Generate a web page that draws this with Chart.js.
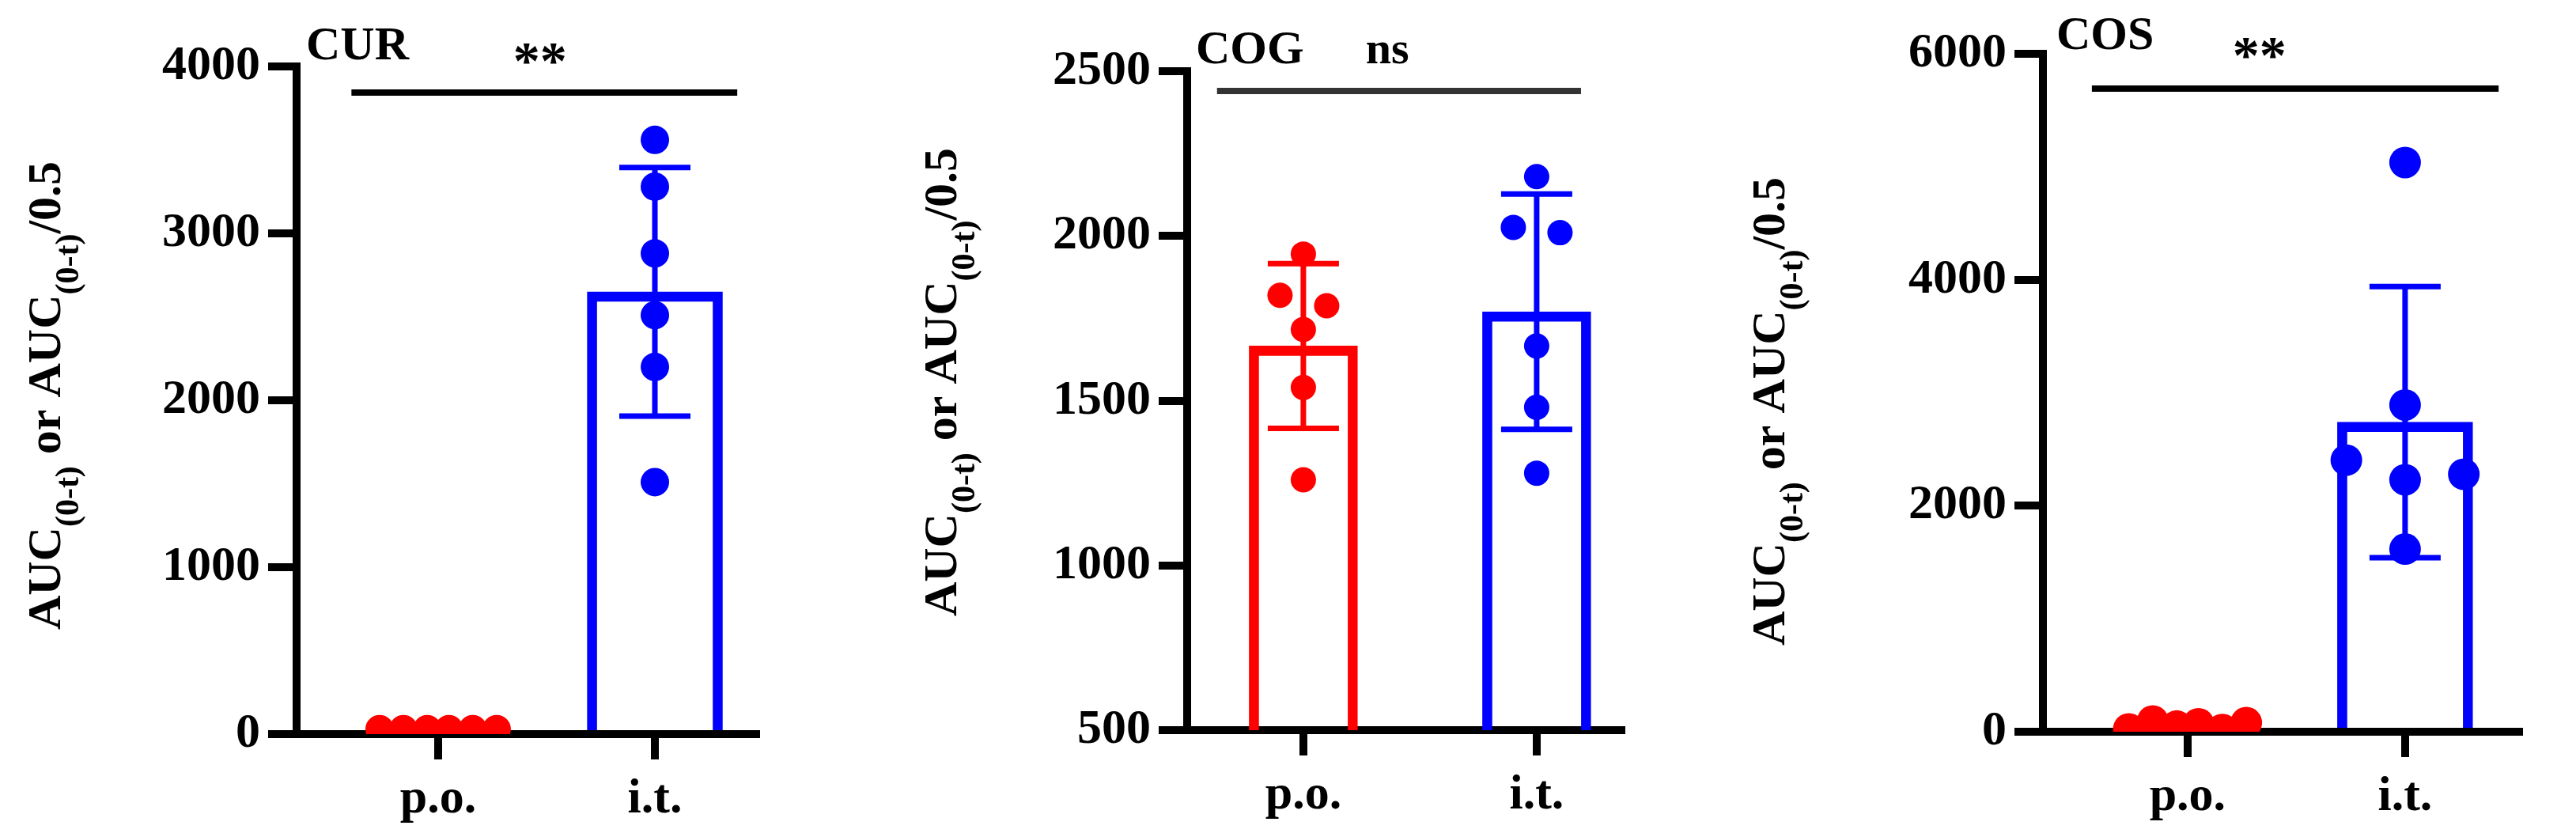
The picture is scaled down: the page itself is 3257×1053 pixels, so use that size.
<!DOCTYPE html>
<html>
<head>
<meta charset="utf-8">
<script src="https://cdn.jsdelivr.net/npm/chart.js@4"></script>
<style>
  html, body { margin: 0; padding: 0; background: #fff; }
  body { position: relative; width: 3257px; height: 1053px; overflow: hidden; }
  .panel { position: absolute; top: 0; height: 1053px; }
</style>
</head>
<body>
<div class="panel" style="left:0;width:1000px"><canvas id="cur"></canvas></div>
<div class="panel" style="left:1000px;width:1100px"><canvas id="cog"></canvas></div>
<div class="panel" style="left:2100px;width:1157px"><canvas id="cos"></canvas></div>
<script>
// --- data ---
const groups = ['p.o.', 'i.t.'];

const curMean = [30, 2650];
const curSd = [10, 745];
const curPo = [30, 30, 30, 30, 30, 30];
const curPoX = [-0.27, -0.16, -0.05, 0.05, 0.16, 0.27];
const curIt = [3560, 3280, 2880, 2510, 2200, 1510];
const curItX = [0, 0, 0, 0, 0, 0];

const cogMean = [1666, 1770];
const cogSd = [250, 357];
const cogPo = [1945, 1820, 1788, 1716, 1540, 1260];
const cogPoX = [0, -0.1, 0.1, 0, 0, 0];
const cogIt = [2180, 2026, 2010, 1666, 1480, 1280];
const cogItX = [0, -0.1, 0.1, 0, 0, 0];

const cosMean = [55, 2740];
const cosSd = [20, 1200];
const cosPo = [25, 95, 50, 70, 20, 80];
const cosPoX = [-0.27, -0.16, -0.05, 0.05, 0.16, 0.27];
const cosIt = [5038, 2892, 2404, 2230, 2279, 1617];
const cosItX = [0, 0, -0.27, 0, 0.27, 0];

const RED = '#ff0000', BLUE = '#0000ff';
const SERIF = '"Liberation Serif", "DejaVu Serif", serif';

function pts(xs, ys, off) {
    return ys.map((y, i) => ({ x: off + xs[i], y: y }));
}

// error bars (mean ± SD) drawn under the points
const errorBars = {
    id: 'errorBars',
    beforeDatasetsDraw(chart, args, opts) {
        const { ctx, scales: { x, y } } = chart;
        ctx.save();
        ctx.lineWidth = 7;
        ctx.lineCap = 'butt';
        opts.mean.forEach((m, i) => {
            const px = x.getPixelForValue(i);
            const top = y.getPixelForValue(m + opts.sd[i]);
            const bot = y.getPixelForValue(m - opts.sd[i]);
            ctx.strokeStyle = [RED, BLUE][i];
            ctx.beginPath();
            ctx.moveTo(px, top); ctx.lineTo(px, bot);
            ctx.moveTo(px - 45, top); ctx.lineTo(px + 45, top);
            ctx.moveTo(px - 45, bot); ctx.lineTo(px + 45, bot);
            ctx.stroke();
        });
        ctx.restore();
    }
};

// panel label, significance bar and rotated y title
const notes = {
    id: 'notes',
    afterDraw(chart, args, o) {
        const { ctx, chartArea, scales: { x } } = chart;
        ctx.save();
        ctx.fillStyle = '#000';
        ctx.textAlign = 'left';
        ctx.textBaseline = 'alphabetic';
        ctx.font = 'bold 60px ' + SERIF;
        ctx.fillText(o.label, chartArea.left + o.labelDx, chartArea.top + o.labelDy);

        const ly = chartArea.top + o.lineDy;
        ctx.strokeStyle = o.lineColor;
        ctx.lineWidth = 8;
        ctx.beginPath();
        ctx.moveTo(x.getPixelForValue(o.lineFrom), ly);
        ctx.lineTo(x.getPixelForValue(o.lineTo), ly);
        ctx.stroke();

        ctx.textAlign = 'center';
        ctx.font = 'bold ' + o.sigSize + 'px ' + SERIF;
        ctx.fillText(o.sig, x.getPixelForValue(o.sigX), ly - o.sigDy);

        // y title with subscripts
        ctx.translate(o.titleX, o.titleY);
        ctx.rotate(-Math.PI / 2);
        const parts = [['AUC', 0], ['(0-t)', 1], [' or AUC', 0], ['(0-t)', 1], ['/0.5', 0]];
        const big = 'bold 60px ' + SERIF, small = 'bold 42px ' + SERIF;
        let w = 0;
        parts.forEach(p => { ctx.font = p[1] ? small : big; w += ctx.measureText(p[0]).width; });
        let cx = -w / 2;
        ctx.textAlign = 'left';
        ctx.textBaseline = 'middle';
        parts.forEach(p => {
            ctx.font = p[1] ? small : big;
            ctx.fillText(p[0], cx, p[1] ? 28 : 0);
            cx += ctx.measureText(p[0]).width;
        });
        ctx.restore();
    }
};

function makeChart(id, cfg) {
    const po = pts(cfg.poX, cfg.po, 0);
    const it = pts(cfg.itX, cfg.it, 1);
    return new Chart(document.getElementById(id), {
        type: 'bar',
        data: {
            datasets: [
                {
                    type: 'scatter',
                    data: po.concat(it),
                    pointBackgroundColor: po.map(() => RED).concat(it.map(() => BLUE)),
                    pointBorderWidth: 0,
                    pointRadius: cfg.radius,
                    order: 0
                },
                {
                    type: 'bar',
                    data: cfg.mean.map((m, i) => ({ x: i, y: m })),
                    backgroundColor: 'rgba(0,0,0,0)',
                    borderColor: [RED, BLUE],
                    borderWidth: 12,
                    borderSkipped: 'bottom',
                    barThickness: cfg.barW,
                    order: 2
                }
            ]
        },
        options: {
            responsive: true,
            maintainAspectRatio: false,
            animation: false,
            devicePixelRatio: 1,
            layout: { padding: { top: cfg.top, right: cfg.right, left: 0, bottom: 0 } },
            plugins: {
                legend: { display: false },
                tooltip: { enabled: false },
                errorBars: { mean: cfg.mean, sd: cfg.sd },
                notes: cfg.notes
            },
            scales: {
                x: {
                    type: 'linear',
                    offset: false,
                    min: cfg.xmin, max: cfg.xmax,
                    afterBuildTicks: s => { s.ticks = [{ value: 0 }, { value: 1 }]; },
                    afterFit: s => { s.height = cfg.xh; },
                    border: { color: '#000', width: 10 },
                    grid: { offset: false, drawOnChartArea: false, tickLength: 32, lineWidth: 10, color: '#000' },
                    ticks: {
                        callback: v => groups[v],
                        color: '#000', padding: 14,
                        font: { family: SERIF, size: 62, weight: 'bold' }
                    }
                },
                y: {
                    min: cfg.ymin, max: cfg.ymax,
                    afterFit: s => { s.width = cfg.yw; },
                    border: { color: '#000', width: 10 },
                    grid: { drawOnChartArea: false, tickLength: 36, lineWidth: 10, color: '#000' },
                    ticks: {
                        stepSize: cfg.step,
                        callback: v => String(v),
                        color: '#000', padding: 10,
                        font: { family: SERIF, size: 62, weight: 'bold' }
                    }
                }
            }
        },
        plugins: [errorBars, notes]
    });
}

makeChart('cur', {
    mean: curMean, sd: curSd, po: curPo, poX: curPoX, it: curIt, itX: curItX,
    radius: 18, barW: 171,
    xmin: -0.653, xmax: 1.467, ymin: 0, ymax: 4000, step: 1000,
    top: 84, right: 44, xh: 125, yw: 375,
    notes: { label: 'CUR', labelDx: 12, labelDy: -9, lineDy: 33, lineColor: '#000',
             lineFrom: -0.40, lineTo: 1.38, sig: '**', sigSize: 68, sigX: 0.47, sigDy: 18,
             titleX: 60, titleY: 500 }
});

makeChart('cog', {
    mean: cogMean, sd: cogSd, po: cogPo, poX: cogPoX, it: cogIt, itX: cogItX,
    radius: 16, barW: 137,
    xmin: -0.498, xmax: 1.363, ymin: 500, ymax: 2500, step: 500,
    top: 90, right: 50, xh: 130, yw: 501,
    notes: { label: 'COG', labelDx: 11, labelDy: -10, lineDy: 25, lineColor: '#333',
             lineFrom: -0.37, lineTo: 1.19, sig: 'ns', sigSize: 58, sigX: 0.36, sigDy: 35,
             titleX: 193, titleY: 483 }
});

makeChart('cos', {
    mean: cosMean, sd: cosSd, po: cosPo, poX: cosPoX, it: cosIt, itX: cosItX,
    radius: 20, barW: 171,
    xmin: -0.665, xmax: 1.524, ymin: 0, ymax: 6000, step: 2000,
    top: 68, right: 72, xh: 128, yw: 483,
    notes: { label: 'COS', labelDx: 17, labelDy: -6, lineDy: 44, lineColor: '#000',
             lineFrom: -0.44, lineTo: 1.43, sig: '**', sigSize: 68, sigX: 0.33, sigDy: 20,
             titleX: 140, titleY: 520 }
});
</script>
</body>
</html>
